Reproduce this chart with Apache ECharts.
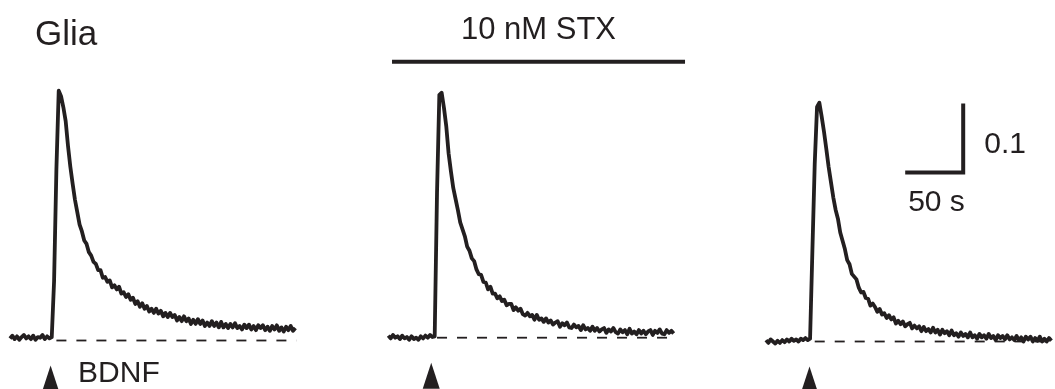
<!DOCTYPE html>
<html>
<head>
<meta charset="utf-8">
<script src="https://cdn.jsdelivr.net/npm/echarts@6/dist/echarts.min.js"></script>
<style>
  html, body { margin: 0; padding: 0; background: #ffffff; }
  #chart { width: 1055px; height: 389px; }
</style>
</head>
<body>
<div id="chart"></div>
<script>
// Glial calcium responses (fluorescence ratio, baseline = 0) to BDNF,
// sampled every 2 s: control, during 10 nM STX, and after washout.
const SAMPLE_INTERVAL = 2; // seconds between samples

const controlTrace = [
  0.003, 0.007, 0.002, 0.006, 0.001, 0.005, 0.008, 0.003, 0.006, 0.002,
  0.007, 0.001, 0.005, 0.004, 0.008, 0.002, 0.006, 0.003, 0.005,
  0.086, 0.248, 0.362, 0.354, 0.338, 0.318, 0.282, 0.252, 0.227, 0.204, 0.186,
  0.168, 0.158, 0.145, 0.140, 0.128, 0.123, 0.114, 0.111, 0.102, 0.102,
  0.091, 0.092, 0.085, 0.087, 0.077, 0.080, 0.074, 0.078, 0.068, 0.070,
  0.063, 0.067, 0.059, 0.062, 0.053, 0.057, 0.049, 0.054, 0.046, 0.050,
  0.042, 0.046, 0.040, 0.046, 0.039, 0.043, 0.035, 0.040, 0.034, 0.040,
  0.034, 0.037, 0.029, 0.034, 0.028, 0.035, 0.028, 0.032, 0.024, 0.030,
  0.024, 0.031, 0.024, 0.029, 0.021, 0.026, 0.021, 0.028, 0.021, 0.026,
  0.019, 0.027, 0.019, 0.024, 0.018, 0.024, 0.019, 0.025, 0.018, 0.021,
  0.016, 0.023, 0.018, 0.023, 0.016, 0.021, 0.015, 0.022, 0.018, 0.022,
  0.015, 0.020, 0.014, 0.021, 0.016, 0.022, 0.014, 0.019, 0.013, 0.020,
  0.015, 0.021, 0.014, 0.018
];

const stxTrace = [
  0.003, -0.001, 0.004, 0.000, 0.002, -0.002, 0.003, -0.001, 0.001, -0.003,
  0.002, -0.002, 0.000, -0.003, 0.002, -0.001, 0.003, 0.000, 0.004, 0.001,
  0.002,
  0.210, 0.352, 0.355, 0.333, 0.306, 0.267, 0.241, 0.217, 0.201,
  0.185, 0.167, 0.157, 0.147, 0.132, 0.126, 0.115, 0.111, 0.099, 0.092,
  0.091, 0.081, 0.080, 0.070, 0.074, 0.064, 0.064, 0.057, 0.060, 0.053,
  0.055, 0.047, 0.049, 0.049, 0.040, 0.044, 0.039, 0.042, 0.034, 0.032,
  0.036, 0.031, 0.033, 0.026, 0.033, 0.026, 0.028, 0.023, 0.028, 0.022,
  0.025, 0.019, 0.022, 0.024, 0.016, 0.021, 0.018, 0.022, 0.015, 0.014,
  0.019, 0.015, 0.017, 0.011, 0.018, 0.012, 0.014, 0.010, 0.016, 0.010,
  0.014, 0.009, 0.012, 0.014, 0.007, 0.012, 0.009, 0.014, 0.008, 0.006,
  0.012, 0.008, 0.011, 0.005, 0.013, 0.006, 0.009, 0.005, 0.011, 0.006,
  0.010, 0.005, 0.009, 0.011, 0.004, 0.010, 0.007, 0.012, 0.006, 0.005,
  0.011, 0.007, 0.010, 0.006
];

const washTrace = [
  0.002, -0.002, 0.003, 0.000, -0.003, 0.001, -0.002, 0.002, -0.001, 0.003,
  0.000, 0.004, 0.001, 0.003, 0.000, 0.004, 0.002, 0.005, 0.002,
  0.004, 0.132, 0.257, 0.340, 0.346, 0.326, 0.304, 0.279, 0.253, 0.231, 0.209,
  0.191, 0.178, 0.158, 0.146, 0.134, 0.118, 0.112, 0.098, 0.094, 0.090,
  0.078, 0.071, 0.072, 0.063, 0.062, 0.052, 0.055, 0.050, 0.043, 0.047,
  0.039, 0.041, 0.034, 0.038, 0.032, 0.035, 0.026, 0.030, 0.025, 0.029,
  0.022, 0.025, 0.027, 0.019, 0.023, 0.019, 0.022, 0.015, 0.021, 0.015,
  0.018, 0.013, 0.020, 0.013, 0.017, 0.010, 0.017, 0.012, 0.015, 0.009,
  0.016, 0.009, 0.012, 0.007, 0.013, 0.008, 0.011, 0.006, 0.013, 0.006,
  0.009, 0.004, 0.011, 0.006, 0.009, 0.004, 0.011, 0.005, 0.008, 0.002,
  0.009, 0.005, 0.008, 0.003, 0.009, 0.003, 0.006, 0.002, 0.008, 0.002,
  0.006, 0.000, 0.007, 0.003, 0.007, 0.000, 0.005, 0.001, 0.007, 0.000,
  0.004, 0.000, 0.005, 0.001
];

const traces = [controlTrace, stxTrace, washTrace];
const bdnfTimes = [35, 37, 37.5];          // BDNF application (s)
const baselineFrom = [40, 42, 42];         // dashed zero line start (s)
const baselineTo = 247;                    // end of each record (s)
const stxWindow = [3.2, 255.8];            // STX bath application (s, middle record)
const stxLevel = 0.4;
const scaleTime = [120, 170];              // 50 s
const scaleRatio = [0.245, 0.345];         // 0.1
const stxLabel = '10 nM STX';
const stimLabel = 'BDNF';
const timeScaleLabel = '50 s';
const ratioScaleLabel = '0.1';

const INK = '#231f20';
const FONT = '"Liberation Sans", Arial, sans-serif';
const ARROW_LEVEL = -0.055;
const LABEL_SIZE = 30;

// three recordings side by side, sharing one time scale (58 px per 50 s)
// and one ratio scale (69 px per 0.1)
const PANEL_HEIGHT = 334.65;
const Y_MIN = -0.065, Y_MAX = 0.42;
const gridLefts = [10, 388.3, 766];
const gridWidths = [300, 300, 288];
const gridTops = [50.7, 47.9, 51.7];
const grid = gridLefts.map((l, i) => ({ left: l, top: gridTops[i], width: gridWidths[i], height: PANEL_HEIGHT }));
const xAxis = grid.map((g, i) => ({ gridIndex: i, type: 'value', min: 0, max: gridWidths[i] * 50 / 58, show: false }));
const yAxis = grid.map((g, i) => ({ gridIndex: i, type: 'value', min: Y_MIN, max: Y_MAX, show: false }));

const textStyle = { color: INK, fontSize: LABEL_SIZE, fontFamily: FONT };

const series = [];
traces.forEach((tr, i) => {
  series.push({
    type: 'line', xAxisIndex: i, yAxisIndex: i, clip: false, z: 3,
    showSymbol: false, symbol: 'none', silent: true,
    lineStyle: { color: INK, width: 3.8, join: 'round' },
    data: tr.map((v, k) => [k * SAMPLE_INTERVAL, v])
  });
  series.push({
    type: 'line', xAxisIndex: i, yAxisIndex: i, clip: false, z: 2,
    showSymbol: false, symbol: 'none', silent: true,
    lineStyle: { color: INK, width: 1.8, type: [10, 10] },
    data: [[baselineFrom[i], 0], [baselineTo, 0]]
  });
  series.push({
    type: 'scatter', xAxisIndex: i, yAxisIndex: i, clip: false, silent: true,
    symbol: 'triangle', symbolSize: [17, 26],
    itemStyle: { color: INK, opacity: 1 },
    label: Object.assign({ show: i === 0, formatter: stimLabel, position: 'right', distance: 19, offset: [0, -5] }, textStyle),
    data: [[bdnfTimes[i], ARROW_LEVEL]]
  });
});

// STX application bar with its label
series.push({
  type: 'line', xAxisIndex: 1, yAxisIndex: 1, clip: false, silent: true,
  showSymbol: false, symbol: 'none',
  lineStyle: { color: INK, width: 4, cap: 'butt' },
  data: [[stxWindow[0], stxLevel], [stxWindow[1], stxLevel]]
});
series.push({
  type: 'scatter', xAxisIndex: 1, yAxisIndex: 1, clip: false, silent: true,
  symbolSize: 0, itemStyle: { opacity: 1 },
  label: Object.assign({ show: true, formatter: stxLabel, position: 'top', distance: 16 }, textStyle, { fontSize: 31 }),
  data: [[(stxWindow[0] + stxWindow[1]) / 2, stxLevel]]
});

// scale bar: 50 s by 0.1
series.push({
  type: 'line', xAxisIndex: 2, yAxisIndex: 2, clip: false, silent: true,
  showSymbol: false, symbol: 'none',
  lineStyle: { color: INK, width: 4, cap: 'butt', join: 'miter' },
  data: [[scaleTime[0], scaleRatio[0]], [scaleTime[1], scaleRatio[0]], [scaleTime[1], scaleRatio[1]]]
});
series.push({
  type: 'scatter', xAxisIndex: 2, yAxisIndex: 2, clip: false, silent: true,
  symbolSize: 0, itemStyle: { opacity: 1 },
  data: [
    { value: [(scaleTime[0] + scaleTime[1]) / 2 + 2, scaleRatio[0]],
      label: Object.assign({ show: true, formatter: timeScaleLabel, position: 'bottom', distance: 15 }, textStyle) },
    { value: [scaleTime[1], (scaleRatio[0] + scaleRatio[1]) / 2 - 0.01],
      label: Object.assign({ show: true, formatter: ratioScaleLabel, position: 'right', distance: 21 }, textStyle) }
  ]
});

const chart = echarts.init(document.getElementById('chart'), null, { renderer: 'canvas' });
chart.setOption({
  animation: false,
  backgroundColor: '#ffffff',
  title: {
    text: 'Glia', left: 30, top: 13,
    textStyle: { color: INK, fontSize: 35, fontWeight: 'normal', fontFamily: FONT }
  },
  grid, xAxis, yAxis, series
});
</script>
</body>
</html>
